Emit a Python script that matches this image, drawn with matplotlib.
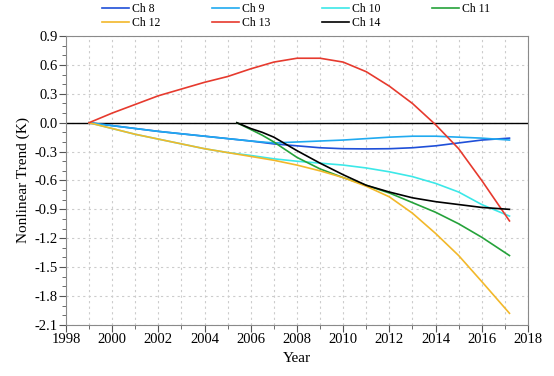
import numpy as np
import matplotlib.pyplot as plt
from matplotlib.ticker import MultipleLocator, FormatStrFormatter

plt.rcParams['font.family'] = ['Liberation Serif', 'DejaVu Serif']
plt.rcParams['axes.unicode_minus'] = False

# years for channels starting in 1999
yr_a = [1999, 2000, 2001, 2002, 2003, 2004, 2005, 2006, 2007, 2008, 2009,
        2010, 2011, 2012, 2013, 2014, 2015, 2016, 2017.2]
# years for channels starting mid-2005
yr_b = [2005.4, 2006, 2006.5, 2007, 2007.5, 2008, 2009, 2010, 2011, 2012,
        2013, 2014, 2015, 2016, 2017.2]

ch8 = [0, -0.03, -0.06, -0.09, -0.115, -0.14, -0.165, -0.19, -0.22, -0.24, -0.26,
       -0.27, -0.272, -0.27, -0.26, -0.24, -0.21, -0.18, -0.16]
ch9 = [0, -0.03, -0.06, -0.09, -0.115, -0.14, -0.165, -0.19, -0.21, -0.20, -0.19,
       -0.18, -0.165, -0.15, -0.14, -0.14, -0.15, -0.16, -0.18]
ch10 = [0, -0.06, -0.12, -0.17, -0.22, -0.27, -0.31, -0.34, -0.375, -0.40, -0.42,
        -0.44, -0.47, -0.51, -0.56, -0.63, -0.72, -0.85, -0.97]
ch12 = [0, -0.06, -0.12, -0.17, -0.22, -0.27, -0.31, -0.35, -0.39, -0.44, -0.50,
        -0.57, -0.66, -0.77, -0.94, -1.15, -1.38, -1.65, -1.98]
ch13 = [0, 0.10, 0.19, 0.28, 0.35, 0.42, 0.48, 0.56, 0.63, 0.67, 0.67,
        0.63, 0.53, 0.38, 0.20, -0.02, -0.27, -0.60, -1.02]
ch11 = [0, -0.07, -0.13, -0.20, -0.28, -0.36, -0.48, -0.57, -0.65, -0.73,
        -0.83, -0.93, -1.05, -1.19, -1.38]
ch14 = [0, -0.06, -0.10, -0.15, -0.22, -0.29, -0.42, -0.54, -0.65, -0.72,
        -0.78, -0.82, -0.85, -0.88, -0.90]

fig = plt.figure(figsize=(5.54, 3.76), dpi=100)
ax = fig.add_axes([0.119, 0.136, 0.834, 0.768])

ax.axhline(0, color='black', lw=1.0, zorder=2)

l8, = ax.plot(yr_a, ch8, color='#1f4fd8', lw=1.2, label='Ch 8')
l9, = ax.plot(yr_a, ch9, color='#20aaf0', lw=1.2, label='Ch 9')
l10, = ax.plot(yr_a, ch10, color='#3ce8e8', lw=1.2, label='Ch 10')
l11, = ax.plot(yr_b, ch11, color='#25a23a', lw=1.2, label='Ch 11')
l12, = ax.plot(yr_a, ch12, color='#f2b82a', lw=1.2, label='Ch 12')
l13, = ax.plot(yr_a, ch13, color='#e63a2e', lw=1.2, label='Ch 13')
l14, = ax.plot(yr_b, ch14, color='black', lw=1.2, label='Ch 14')

ax.set_xlim(1998, 2018)
ax.set_ylim(-2.1, 0.9)
ax.xaxis.set_major_locator(MultipleLocator(2))
ax.xaxis.set_minor_locator(MultipleLocator(1))
ax.yaxis.set_major_locator(MultipleLocator(0.3))
ax.yaxis.set_minor_locator(MultipleLocator(0.1))
ax.yaxis.set_major_formatter(FormatStrFormatter('%.1f'))

ax.grid(which='major', axis='both', color='#cccccc', ls=(0, (2, 3)), lw=0.8)
ax.grid(which='minor', axis='x', color='#cccccc', ls=(0, (2, 3)), lw=0.8)

for s in ax.spines.values():
    s.set_color('#8a8a8a')
ax.tick_params(which='major', direction='out', length=5, color='#555555',
               labelsize=10.5, pad=1)
ax.tick_params(which='minor', direction='out', length=3, color='#555555')

ax.set_xlabel('Year', fontsize=11, labelpad=4)
ax.set_ylabel('Nonlinear Trend (K)', fontsize=11, labelpad=3)

# row-major order for the 4-column legend
handles = [l8, l12, l9, l13, l10, l14, l11]
ax.legend(handles=handles, labels=[h.get_label() for h in handles],
          loc='upper left', bbox_to_anchor=(0.184, 0.992),
          bbox_transform=fig.transFigure, ncol=4, frameon=False,
          fontsize=8.5, handlelength=2.3, handletextpad=0.25, columnspacing=4.36,
          labelspacing=0.2, borderpad=0, borderaxespad=0)

fig.savefig('out.png', dpi=100)
